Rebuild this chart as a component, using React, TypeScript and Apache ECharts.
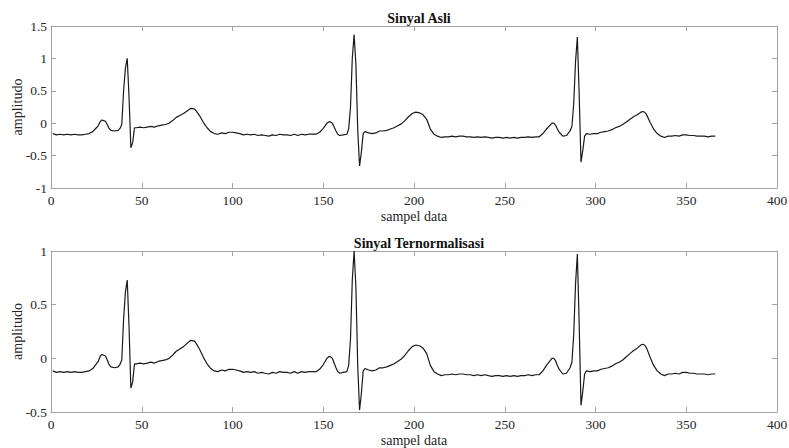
import React, { useEffect, useRef } from "react";
import * as echarts from "echarts";

const sampleIndex = [
  1, 3, 5, 7, 9, 11, 13, 15, 17, 19, 21, 23, 25, 26, 27, 28, 29, 30, 31, 32, 33, 35, 37, 38, 39,
  40, 41, 42, 43, 44, 45, 46, 47, 49, 51, 53, 55, 57, 59, 61, 63, 65, 67, 69, 71, 73, 75, 77, 79, 80,
  82, 84, 86, 88, 90, 92, 94, 96, 98, 100, 102, 104, 106, 108, 110, 112, 114, 116, 118, 120, 122, 124,
  126, 128, 130, 132, 134, 136, 138, 140, 142, 144, 146, 148, 150, 151, 152, 153, 154, 155, 156, 157,
  158, 159, 161, 163, 164, 165, 166, 167, 168, 169, 170, 171, 172, 173, 175, 177, 179, 181, 183, 185,
  187, 189, 191, 193, 195, 197, 199, 201, 203, 205, 207, 209, 211, 213, 215, 217, 219, 221, 223, 225,
  227, 229, 231, 233, 235, 237, 239, 241, 243, 245, 247, 249, 251, 253, 255, 257, 259, 261, 263, 265,
  267, 269, 271, 273, 275, 276, 277, 278, 279, 280, 282, 284, 286, 287, 288, 289, 290, 291, 292, 293,
  294, 295, 297, 299, 301, 303, 305, 307, 309, 311, 313, 315, 317, 319, 321, 323, 325, 326, 327, 328,
  330, 332, 334, 336, 338, 340, 342, 344, 346, 348, 350, 352, 354, 356, 358, 360, 362, 364, 366,
];

const sinyalAsli = [
  -0.16, -0.18, -0.17, -0.18, -0.17, -0.18, -0.17, -0.18, -0.18, -0.17, -0.16, -0.13, -0.07, -0.04, 0.02, 0.05, 0.04, 0.03, -0.02, -0.08, -0.11, -0.12, -0.11, -0.08, -0.02,
  0.5, 0.85, 1.0, 0.4, -0.38, -0.3, -0.07, -0.07, -0.06, -0.07, -0.06, -0.05, -0.06, -0.04, -0.03, -0.02, 0.0, 0.04, 0.09, 0.12, 0.15, 0.19, 0.23, 0.22, 0.19,
  0.11, 0.01, -0.07, -0.13, -0.16, -0.17, -0.15, -0.16, -0.14, -0.14, -0.15, -0.16, -0.18, -0.17, -0.18, -0.17, -0.19, -0.18, -0.19, -0.2, -0.18, -0.19,
  -0.17, -0.18, -0.18, -0.19, -0.17, -0.19, -0.17, -0.18, -0.17, -0.17, -0.17, -0.14, -0.08, -0.04, 0.0, 0.02, 0.02, 0.0, -0.06, -0.12,
  -0.17, -0.19, -0.18, -0.17, -0.09, 0.24, 1.0, 1.37, 0.9, -0.1, -0.66, -0.45, -0.16, -0.13, -0.15, -0.16, -0.15, -0.12, -0.12, -0.11,
  -0.09, -0.07, -0.04, -0.01, 0.04, 0.1, 0.15, 0.17, 0.16, 0.13, 0.06, -0.09, -0.17, -0.2, -0.22, -0.21, -0.21, -0.2, -0.21, -0.2,
  -0.2, -0.21, -0.21, -0.22, -0.21, -0.22, -0.21, -0.22, -0.23, -0.22, -0.22, -0.23, -0.22, -0.23, -0.22, -0.23, -0.22, -0.22, -0.21, -0.22,
  -0.21, -0.21, -0.16, -0.09, -0.03, 0.0, 0.0, -0.03, -0.09, -0.14, -0.2, -0.19, -0.12, -0.05, 0.3, 0.95, 1.33, 0.45, -0.6, -0.42,
  -0.2, -0.16, -0.17, -0.16, -0.16, -0.14, -0.13, -0.12, -0.1, -0.07, -0.05, -0.02, 0.02, 0.06, 0.1, 0.13, 0.17, 0.18, 0.17, 0.14,
  0.02, -0.09, -0.16, -0.2, -0.22, -0.2, -0.2, -0.19, -0.2, -0.18, -0.18, -0.19, -0.19, -0.2, -0.2, -0.2, -0.21, -0.2, -0.2,
];

const sinyalTernormalisasi = [
  -0.117, -0.131, -0.124, -0.131, -0.124, -0.131, -0.124, -0.131, -0.131, -0.124, -0.117, -0.095, -0.051, -0.029, 0.015, 0.036, 0.029, 0.022, -0.015, -0.058, -0.08, -0.088, -0.08, -0.058, -0.015,
  0.365, 0.62, 0.73, 0.292, -0.277, -0.219, -0.051, -0.051, -0.044, -0.051, -0.044, -0.036, -0.044, -0.029, -0.022, -0.015, 0.0, 0.029, 0.066, 0.088, 0.109, 0.139, 0.168, 0.161, 0.139,
  0.08, 0.007, -0.051, -0.095, -0.117, -0.124, -0.109, -0.117, -0.102, -0.102, -0.109, -0.117, -0.131, -0.124, -0.131, -0.124, -0.139, -0.131, -0.139, -0.146, -0.131, -0.139,
  -0.124, -0.131, -0.131, -0.139, -0.124, -0.139, -0.124, -0.131, -0.124, -0.124, -0.124, -0.102, -0.058, -0.029, 0.0, 0.015, 0.015, 0.0, -0.044, -0.088,
  -0.124, -0.139, -0.131, -0.124, -0.066, 0.175, 0.73, 1.0, 0.657, -0.073, -0.482, -0.328, -0.117, -0.095, -0.109, -0.117, -0.109, -0.088, -0.088, -0.08,
  -0.066, -0.051, -0.029, -0.007, 0.029, 0.073, 0.109, 0.124, 0.117, 0.095, 0.044, -0.066, -0.124, -0.146, -0.161, -0.153, -0.153, -0.146, -0.153, -0.146,
  -0.146, -0.153, -0.153, -0.161, -0.153, -0.161, -0.153, -0.161, -0.168, -0.161, -0.161, -0.168, -0.161, -0.168, -0.161, -0.168, -0.161, -0.161, -0.153, -0.161,
  -0.153, -0.153, -0.117, -0.066, -0.022, 0.0, 0.0, -0.022, -0.066, -0.102, -0.146, -0.139, -0.088, -0.036, 0.219, 0.693, 0.971, 0.328, -0.438, -0.307,
  -0.146, -0.117, -0.124, -0.117, -0.117, -0.102, -0.095, -0.088, -0.073, -0.051, -0.036, -0.015, 0.015, 0.044, 0.073, 0.095, 0.124, 0.131, 0.124, 0.102,
  0.015, -0.066, -0.117, -0.146, -0.161, -0.146, -0.146, -0.139, -0.146, -0.131, -0.131, -0.139, -0.139, -0.146, -0.146, -0.146, -0.153, -0.146, -0.146,
];

const titles = ["Sinyal Asli", "Sinyal Ternormalisasi"];
const xAxisName = "sampel data";
const yAxisName = "amplitudo";
const xRange = { min: 0, max: 400, interval: 50 };
const yRanges = [
  { min: -1, max: 1.5, interval: 0.5 },
  { min: -0.5, max: 1, interval: 0.5 },
];

const FONT = '"Liberation Serif", "Times New Roman", serif';
const AXIS_COLOR = "#a3a3a3";
const TEXT_COLOR = "#262626";

export default function App() {
  const ref = useRef<HTMLDivElement>(null);

  useEffect(() => {
    if (!ref.current) return;
    const chart = echarts.init(ref.current, undefined, { renderer: "svg" });

    const grids = [
      { left: 51, right: 12, top: 26, height: 162, outerBoundsMode: "none", containLabel: false },
      { left: 51, right: 12, top: 251, height: 161, outerBoundsMode: "none", containLabel: false },
    ];

    const axisLine = { show: true, onZero: false, lineStyle: { color: AXIS_COLOR, width: 1 } };
    const axisTick = { show: true, inside: true, length: 5, lineStyle: { color: AXIS_COLOR, width: 1 } };
    const labelStyle = { color: TEXT_COLOR, fontFamily: FONT, fontSize: 13.5 };

    const xAxes: any[] = [];
    const yAxes: any[] = [];
    grids.forEach((_, g) => {
      xAxes.push({
        type: "value", gridIndex: g, position: "bottom", ...xRange,
        axisLine, axisTick, splitLine: { show: false },
        axisLabel: { ...labelStyle, margin: 5 },
        name: xAxisName, nameLocation: "middle", nameGap: 21, nameMoveOverlap: false,
        nameTextStyle: { ...labelStyle, fontSize: 14 },
      });
      xAxes.push({
        type: "value", gridIndex: g, position: "top", ...xRange,
        axisLine, axisTick, splitLine: { show: false }, axisLabel: { show: false },
      });
      yAxes.push({
        type: "value", gridIndex: g, position: "left", ...yRanges[g],
        axisLine, axisTick, splitLine: { show: false },
        axisLabel: { ...labelStyle, margin: 4 },
        name: yAxisName, nameLocation: "middle", nameGap: 27, nameMoveOverlap: false,
        nameTextStyle: { ...labelStyle, fontSize: 14 },
      });
      yAxes.push({
        type: "value", gridIndex: g, position: "right", ...yRanges[g],
        axisLine, axisTick, splitLine: { show: false }, axisLabel: { show: false },
      });
    });

    const asliData = sampleIndex.map((x, i) => [x, sinyalAsli[i]]);
    const normData = sampleIndex.map((x, i) => [x, sinyalTernormalisasi[i]]);

    chart.setOption({
      animation: false,
      backgroundColor: "#ffffff",
      title: [
        { text: titles[0], left: 414, top: 6, textAlign: "center",
          textStyle: { fontFamily: FONT, fontSize: 14, fontWeight: "bold", color: "#111" } },
        { text: titles[1], left: 414, top: 231, textAlign: "center",
          textStyle: { fontFamily: FONT, fontSize: 14, fontWeight: "bold", color: "#111" } },
      ],
      grid: grids,
      xAxis: xAxes,
      yAxis: yAxes,
      series: [
        { type: "line", xAxisIndex: 0, yAxisIndex: 0, data: asliData, showSymbol: false,
          lineStyle: { color: "#1a1a1a", width: 1.2 } },
        { type: "line", xAxisIndex: 2, yAxisIndex: 2, data: normData, showSymbol: false,
          lineStyle: { color: "#1a1a1a", width: 1.2 } },
      ],
    });

    return () => chart.dispose();
  }, []);

  return (
    <div
      ref={ref}
      style={{ position: "fixed", left: 0, top: 0, width: 789, height: 448, background: "#fff" }}
    />
  );
}
